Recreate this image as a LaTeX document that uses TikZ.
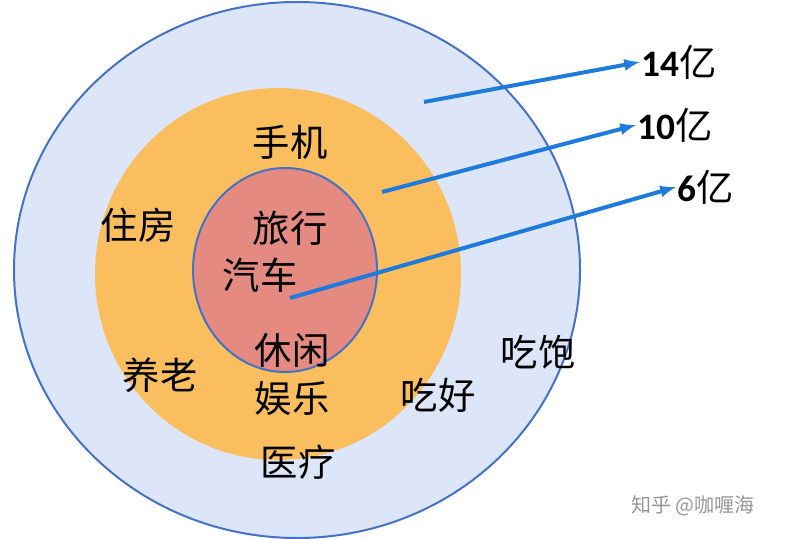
\documentclass[tikz,border=0pt]{standalone}
\usepackage{fontspec}
\setmainfont{Carlito}
\newfontfamily\cjk{Noto Sans CJK SC}
\tikzset{every picture/.style={line width=0.75pt}}
\tikzset{
  ring/.style={draw={rgb,255:red,68;green,114;blue,196},line width=1.5pt},
  word/.style={inner sep=0.75pt,font=\cjk\fontsize{28}{30}\selectfont},
  count/.style={inner sep=0.75pt,font=\fontsize{28}{30}\selectfont},
  pointer/.style={-latex,draw={rgb,255:red,31;green,123;blue,219},line width=3pt}
}
\begin{document}
\begin{tikzpicture}[x=0.75pt,y=0.75pt,yscale=-1]
\useasboundingbox (0,0) rectangle (787,538);
%Rings
\draw [ring,fill={rgb,255:red,220;green,230;blue,248}] (297,270) ellipse (283 and 268);
\draw [ring,draw=none,fill={rgb,255:red,251;green,190;blue,95}] (278,274) ellipse (183 and 186);
\draw [ring,fill={rgb,255:red,228;green,138;blue,128}] (285,270) ellipse (92 and 102);
%Arrow ends
\coordinate (s14) at (424,102);
\coordinate (s10) at (382,192);
\coordinate (s6) at (290,298);
% Text Node
\node (n14) [count,anchor=west] at (640,62) {\textbf{14}{\cjk 亿}};
\node (n10) [count,anchor=west] at (636,125) {\textbf{10}{\cjk 亿}};
\node (n6) [count,anchor=west] at (676,187) {\textbf{6}{\cjk 亿}};
\draw [pointer] (s14) -- (n14.west);
\draw [pointer] (s10) -- (n10.west);
\draw [pointer] (s6) -- (n6.west);
% Text Node
\node (phone) [word] at (290,142) {手机};
\node (house) [word] at (138,225) {住房};
\node (travel) [word] at (290,228) {旅行};
\node (car) [word] at (260,275) {汽车};
\node (leisure) [word] at (292,350) {休闲};
\node (fun) [word] at (292,398) {娱乐};
\node (elder) [word] at (160,375) {养老};
\node (goodfood) [word] at (438,395) {吃好};
\node (health) [word] at (298,462) {医疗};
\node (full) [word] at (538,352) {吃饱};
\node (mark) [inner sep=0.75pt,text={rgb,255:red,150;green,150;blue,150},font=\cjk\fontsize{15}{16}\selectfont] at (693,506) {知乎 @咖喱海};
\end{tikzpicture}
\end{document}
